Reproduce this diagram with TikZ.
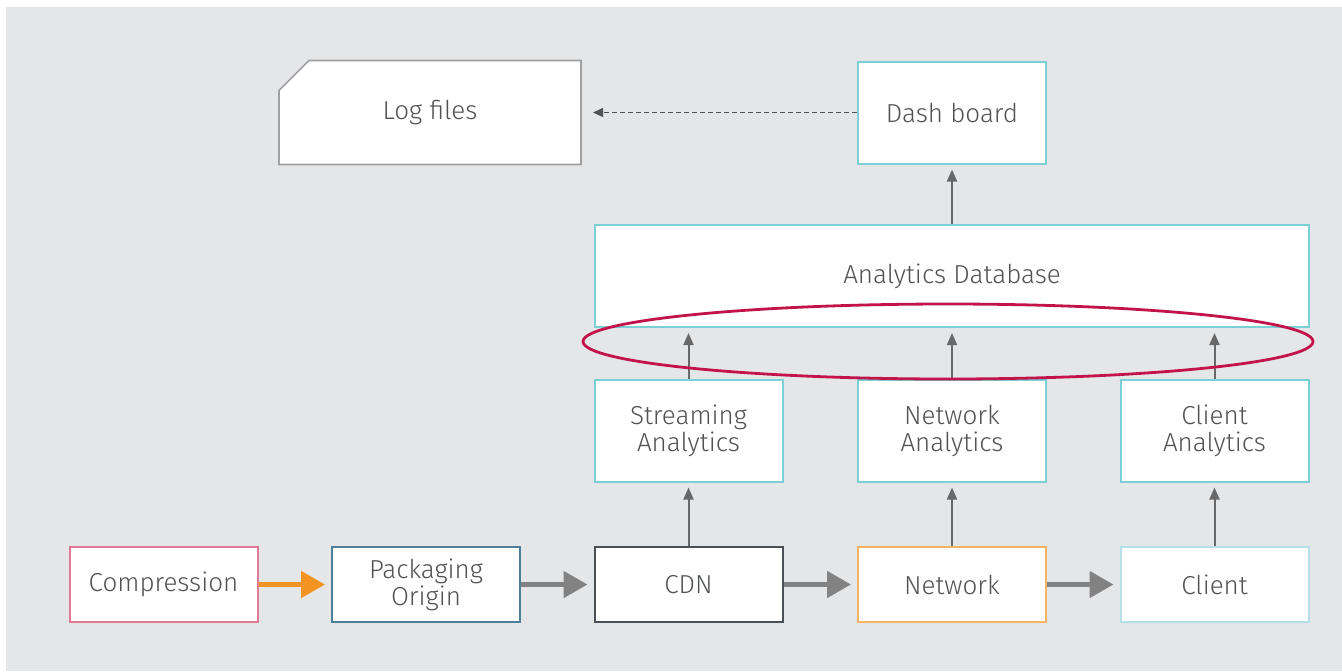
\documentclass[tikz,border=0pt]{standalone}
\usepackage{fontspec}
\setmainfont{Fira Sans}[UprightFont=* Light]
\usetikzlibrary{arrows.meta}
\definecolor{bg}{HTML}{E5E6E8}
\definecolor{txt}{HTML}{505254}
\definecolor{cyanb}{HTML}{7DCFD6}
\definecolor{pinkb}{HTML}{E07A96}
\definecolor{steelb}{HTML}{4D7E9C}
\definecolor{darkb}{HTML}{4A4F58}
\definecolor{orangeb}{HTML}{F5B565}
\definecolor{lcyanb}{HTML}{B5E0E8}
\definecolor{logb}{HTML}{A0A0A0}
\definecolor{flowgrey}{HTML}{828282}
\definecolor{upgrey}{HTML}{686868}
\definecolor{flowor}{HTML}{F39422}
\definecolor{ring}{HTML}{C2144A}
\begin{document}
\begin{tikzpicture}[x=0.5pt,y=-0.5pt,
  labelfont/.style={text=txt, font=\fontsize{13}{13.5}\selectfont},
  box/.style={draw, fill=white, line width=1pt, inner sep=0pt, align=center,
    labelfont, minimum width=94pt},
  tallbox/.style={box, minimum height=51pt},
  flatbox/.style={box, minimum height=37.5pt},
  flow/.style={line width=2.5pt, draw=flowgrey, shorten >=3pt,
    -{Triangle[length=12pt,width=13pt]}},
  upflow/.style={line width=1pt, draw=upgrey, shorten >=2.5pt,
    -{Triangle[length=6pt,width=5pt]}}]
\useasboundingbox (0,0) rectangle (1342,671);
\fill[bg] (6,7) rectangle (1342,671);

% upper row
\node[tallbox, draw=none, fill=none, minimum width=150pt] (log) at (430,112.5) {};
\node[tallbox, draw=cyanb] (dash) at (952,112.5) {Dash board};
\node[tallbox, draw=cyanb, minimum width=357pt] (adb) at (952,276) {Analytics Database};

% chamfered outline of the log files box
\fill[white, draw=logb, line width=0.8pt]
  ([yshift=-15pt]log.north west) -- ([xshift=15pt]log.north west)
  -- (log.north east) -- (log.south east) -- (log.south west) -- cycle;
\node[labelfont] (logtext) at (log.center) {Log files};

% analytics row
\node[tallbox, draw=cyanb] (sa) at (688.5,430.5) {Streaming\\Analytics};
\node[tallbox, draw=cyanb] (na) at (952,430.5) {Network\\Analytics};
\node[tallbox, draw=cyanb] (ca) at (1214.5,430.5) {Client\\Analytics};

% delivery chain
\node[flatbox, draw=pinkb] (comp) at (163.5,584.5) {Compression};
\node[flatbox, draw=steelb] (pack) at (426,584.5) {Packaging\\Origin};
\node[flatbox, draw=darkb] (cdn) at (688.5,584.5) {CDN};
\node[flatbox, draw=orangeb] (net) at (952,584.5) {Network};
\node[flatbox, draw=lcyanb] (cli) at (1214.5,584.5) {Client};

% horizontal flow
\draw[flow, draw=flowor] (comp) -- (pack);
\draw[flow] (pack) -- (cdn);
\draw[flow] (cdn) -- (net);
\draw[flow] (net) -- (cli);

% upward flow
\draw[upflow] (cdn) -- (sa);
\draw[upflow] (net) -- (na);
\draw[upflow] (cli) -- (ca);
\draw[upflow] (sa) -- (sa |- adb.south);
\draw[upflow] (na) -- (adb);
\draw[upflow] (ca) -- (ca |- adb.south);
\draw[upflow] (adb) -- (dash);

% dashed link to log files
\draw[line width=0.6pt, draw=txt, dash pattern=on 2.5pt off 1.5pt, shorten >=6pt,
  -{Triangle[length=5pt,width=4.5pt]}] (dash) -- (log);

% highlight ring
\draw[ring, line width=1.4pt] (948,341.5) ellipse [x radius=365, y radius=37.5];
\end{tikzpicture}
\end{document}
